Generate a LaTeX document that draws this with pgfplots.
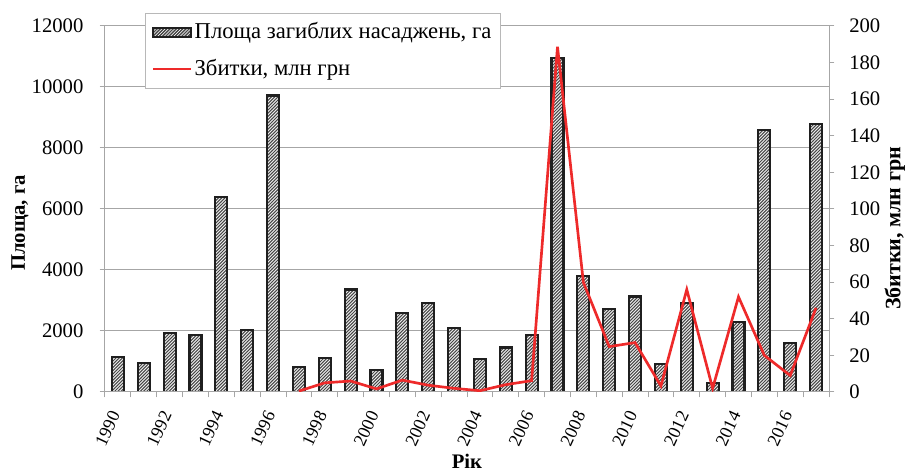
\documentclass[border=0pt]{standalone}
\usepackage{fontspec}
\setmainfont{Liberation Serif}
\newfontfamily\tnr{Liberation Serif}
\usepackage{pgfplots}
\pgfplotsset{compat=1.18}
\usetikzlibrary{patterns}
\definecolor{gridgray}{HTML}{A6A6A6}
\definecolor{lossred}{HTML}{EE2A2A}
\pgfdeclarepatternformonly{densene}{\pgfqpoint{-1pt}{-1pt}}{\pgfqpoint{3.4pt}{3.4pt}}{\pgfqpoint{2.4pt}{2.4pt}}{\pgfsetlinewidth{0.75pt}\pgfpathmoveto{\pgfqpoint{0pt}{0pt}}\pgfpathlineto{\pgfqpoint{2.5pt}{2.5pt}}\pgfusepath{stroke}}
\tikzset{hatchbar/.style={fill=gray!10, postaction={pattern=densene, pattern color=black!72}, draw=black!88, line width=1.6pt}}
\tikzset{redline/.style={draw=lossred, line width=2pt}}
\newcommand\fs{\tnr\fontsize{15.5}{18.5}\selectfont}
\newcommand\fx{\tnr\fontsize{13.5}{16}\selectfont}
\newcommand\fl{\tnr\fontsize{16.5}{19.5}\selectfont}
\newcommand\fg{\tnr\fontsize{17}{20}\selectfont}

\pgfplotstableread{
x year area
0 1990 1150
1 1991 940
2 1992 1940
3 1993 1880
4 1994 6400
5 1995 2040
6 1996 9720
7 1997 810
8 1998 1120
9 1999 3360
10 2000 710
11 2001 2590
12 2002 2920
13 2003 2090
14 2004 1070
15 2005 1460
16 2006 1880
17 2007 10960
18 2008 3810
19 2009 2730
20 2010 3130
21 2011 930
22 2012 2920
23 2013 300
24 2014 2300
25 2015 8590
26 2016 1600
27 2017 8780
}\areadata

\pgfplotstableread{
x year loss
7 1997 0.5
8 1998 5
9 1999 6
10 2000 1.7
11 2001 6.5
12 2002 3.7
13 2003 2
14 2004 0.7
15 2005 4
16 2006 6.2
17 2007 188.7
18 2008 60
19 2009 24.8
20 2010 27
21 2011 3.3
22 2012 56
23 2013 2
24 2014 52
25 2015 20
26 2016 9
27 2017 46
}\lossdata

\begin{document}
\fs
\begin{tikzpicture}
\useasboundingbox (-78.75pt,-61.5pt) rectangle (601.5pt,294pt);
\begin{axis}[
  at={(0,0)}, anchor=south west,
  scale only axis, width=543pt, height=274.5pt,
  xmin=-0.5, xmax=27.5, ymin=0, ymax=12000,
  ybar, bar width=9pt, bar shift=0pt,
  axis line style={draw=gridgray, line width=0.75pt},
  ymajorgrids, grid style={draw=gridgray, line width=0.75pt},
  xtick={0,2,...,26},
  xticklabels={1990,1992,1994,1996,1998,2000,2002,2004,2006,2008,2010,2012,2014,2016},
  minor xtick={-0.5,0.5,...,27.5},
  major x tick style={draw=none},
  minor x tick style={draw=gridgray, line width=0.75pt},
  ytick={0,2000,...,12000},
  scaled y ticks=false,
  ytick style={draw=gridgray, line width=0.75pt},
  tick align=outside, major tick length=4pt, minor tick length=4pt,
  xtick pos=bottom, ytick pos=left,
  /pgf/number format/1000 sep={},
  /pgf/number format/assume math mode=true,
  tick label style={font=\fs},
  xticklabel style={font=\fx, xshift=-2pt, yshift=-11pt, rotate=65, anchor=east, inner sep=0pt},
  yticklabel={\pgfmathprintnumber{\tick}\hspace*{9pt}},
  yticklabel style={inner sep=3pt},
  xlabel={\textbf{Рік}},
  xlabel style={at={(axis description cs:0.5,-0.19)}, anchor=center, font=\fs},
  ylabel={\textbf{Площа, га}},
  ylabel style={at={(axis description cs:-0.1174,0.462)}, anchor=center, font=\fs},
]
\addplot[hatchbar] table[x=x, y=area] {\areadata};
\end{axis}
\begin{axis}[
  at={(0,0)}, anchor=south west,
  scale only axis, width=543pt, height=274.5pt,
  xmin=-0.5, xmax=27.5, ymin=0, ymax=200,
  axis line style={draw=gridgray, line width=0.75pt},
  xtick=\empty,
  ytick={0,20,...,200},
  ytick style={draw=gridgray, line width=0.75pt},
  tick align=outside, major tick length=4pt,
  ytick pos=right, yticklabel pos=right,
  /pgf/number format/assume math mode=true,
  tick label style={font=\fs},
  yticklabel style={inner sep=3pt, xshift=8pt},
  ylabel={\textbf{Збитки, млн грн}},
  ylabel style={at={(axis description cs:1.091,0.447)}, anchor=center, rotate=0, font=\fl},
  legend style={at={(axis description cs:0.0553,1.0355)}, anchor=north west,
    draw=gridgray!80, fill=white, font=\fg,
    inner xsep=5pt, inner ysep=5pt, row sep=9pt,
    /tikz/every even column/.append style={column sep=2pt}},
  legend cell align=left,
]
\addlegendimage{hatchbar, legend image code/.code={\draw[hatchbar] (0pt,-3.5pt) rectangle (28pt,3.5pt);}}
\addlegendentry{Площа загиблих насаджень, га}
\addplot[redline, mark=none, legend image code/.code={\draw[redline] (0pt,0pt) -- (28pt,0pt);}] table[x=x, y=loss] {\lossdata};
\addlegendentry{Збитки, млн грн}
\end{axis}
\end{tikzpicture}
\end{document}
